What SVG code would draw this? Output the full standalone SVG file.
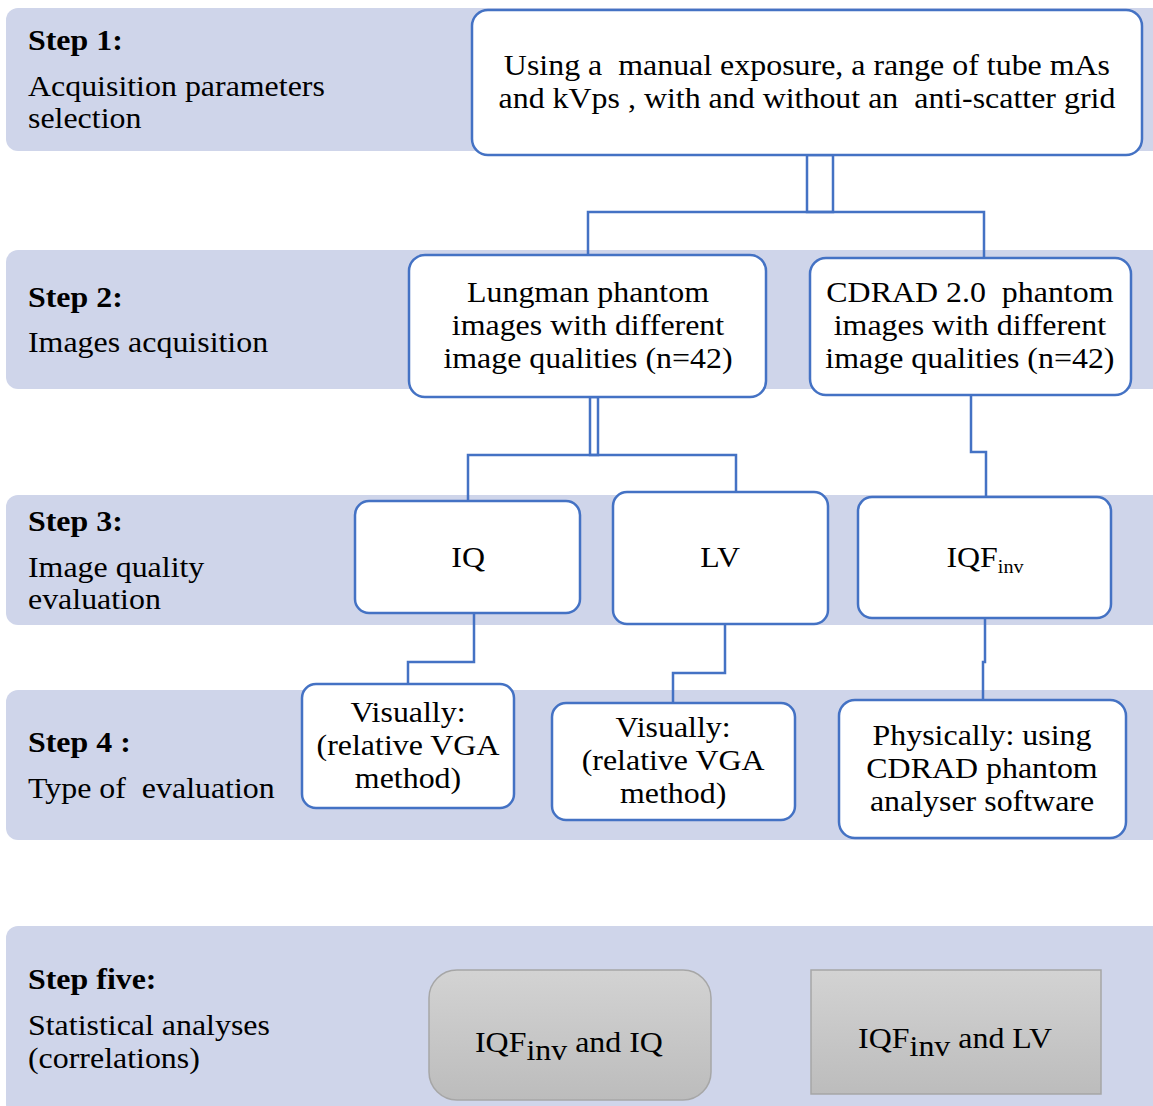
<svg xmlns="http://www.w3.org/2000/svg" width="1153" height="1106" viewBox="0 0 1153 1106">
<defs>
<linearGradient id="gray" x1="0" y1="0" x2="0" y2="1">
<stop offset="0" stop-color="#d3d3d3"/>
<stop offset="1" stop-color="#bcbcbc"/>
</linearGradient>
<style>
.band{fill:#cfd5ea;}
.box{fill:#ffffff;stroke:#4472c4;stroke-width:2.5;}
.gbox{fill:url(#gray);stroke:#a6a6a6;stroke-width:1.5;}
.conn{fill:none;stroke:#4472c4;stroke-width:2.5;}
text{font-family:"Liberation Serif","Times New Roman",serif;font-size:28.5px;fill:#000;transform:scale(1.12,1);}
.c{text-anchor:middle;}
.b{font-weight:bold;}
</style>
</defs>
<rect width="1153" height="1106" fill="#ffffff"/>
<g id="bands">
<rect class="band" x="6" y="8" width="1160" height="143" rx="12"/>
<rect class="band" x="6" y="250" width="1160" height="139" rx="12"/>
<rect class="band" x="6" y="495" width="1160" height="130" rx="12"/>
<rect class="band" x="6" y="690" width="1160" height="150" rx="12"/>
<rect class="band" x="6" y="926" width="1160" height="190" rx="12"/>
</g>
<g id="labels">
<text class="b" x="25" y="50">Step 1:</text>
<text x="25" y="96">Acquisition parameters</text>
<text x="25" y="128">selection</text>
<text class="b" x="25" y="307">Step 2:</text>
<text x="25" y="352">Images acquisition</text>
<text class="b" x="25" y="531">Step 3:</text>
<text x="25" y="577">Image quality</text>
<text x="25" y="609">evaluation</text>
<text class="b" x="25" y="752">Step 4 :</text>
<text x="25" y="798" xml:space="preserve">Type of  evaluation</text>
<text class="b" x="25" y="989">Step five:</text>
<text x="25" y="1035">Statistical analyses</text>
<text x="25" y="1068">(correlations)</text>
</g>
<g id="connectors">
<rect class="conn" x="807" y="155" width="26" height="57"/>
<polyline class="conn" points="588,255 588,212 984,212 984,258"/>
<rect class="conn" x="590" y="397" width="8" height="58"/>
<polyline class="conn" points="468,501 468,455 736,455 736,492"/>
<polyline class="conn" points="971,395 971,452 986,452 986,497"/>
<polyline class="conn" points="474,613 474,662 408,662 408,684"/>
<polyline class="conn" points="725,624 725,673 673,673 673,703"/>
<polyline class="conn" points="985,618 985,662 983,662 983,700"/>
</g>
<g id="n1">
<rect class="box" x="472" y="10" width="670" height="145" rx="16"/>
<text class="c" x="720.5" y="75" xml:space="preserve">Using a  manual exposure, a range of tube mAs</text>
<text class="c" x="720.5" y="108" xml:space="preserve">and kVps , with and without an  anti-scatter grid</text>
</g>
<g id="n2a">
<rect class="box" x="409" y="255" width="357" height="142" rx="16"/>
<text class="c" x="525" y="302">Lungman phantom</text>
<text class="c" x="525" y="335">images with different</text>
<text class="c" x="525" y="368">image qualities (n=42)</text>
</g>
<g id="n2b">
<rect class="box" x="810" y="258" width="321" height="137" rx="16"/>
<text class="c" x="866" y="302" xml:space="preserve">CDRAD 2.0  phantom</text>
<text class="c" x="866" y="335">images with different</text>
<text class="c" x="866" y="368">image qualities (n=42)</text>
</g>
<g id="n3a">
<rect class="box" x="355" y="501" width="225" height="112" rx="14"/>
<text class="c" x="418" y="567">IQ</text>
</g>
<g id="n3b">
<rect class="box" x="613" y="492" width="215" height="132" rx="14"/>
<text class="c" x="643" y="567">LV</text>
</g>
<g id="n3c">
<rect class="box" x="858" y="497" width="253" height="121" rx="14"/>
<text class="c" x="879.5" y="567">IQF<tspan font-size="18" dy="6">inv</tspan></text>
</g>
<g id="n4a">
<rect class="box" x="302" y="684" width="212" height="124" rx="14"/>
<text class="c" x="364.3" y="722">Visually:</text>
<text class="c" x="364.3" y="755">(relative VGA</text>
<text class="c" x="364.3" y="788">method)</text>
</g>
<g id="n4b">
<rect class="box" x="552" y="703" width="243" height="117" rx="14"/>
<text class="c" x="601" y="737">Visually:</text>
<text class="c" x="601" y="770">(relative VGA</text>
<text class="c" x="601" y="803">method)</text>
</g>
<g id="n4c">
<rect class="box" x="839" y="700" width="287" height="138" rx="16"/>
<text class="c" x="876.8" y="745">Physically: using</text>
<text class="c" x="876.8" y="778">CDRAD phantom</text>
<text class="c" x="876.8" y="811">analyser software</text>
</g>
<g id="n5a">
<rect class="gbox" x="429" y="970" width="282" height="130" rx="28"/>
<text class="c" x="508" y="1052">IQF<tspan dy="8">inv</tspan><tspan dy="-8"> and IQ</tspan></text>
</g>
<g id="n5b">
<rect class="gbox" x="811" y="970" width="290" height="124"/>
<text class="c" x="852.7" y="1048">IQF<tspan dy="8">inv</tspan><tspan dy="-8"> and LV</tspan></text>
</g>
</svg>
